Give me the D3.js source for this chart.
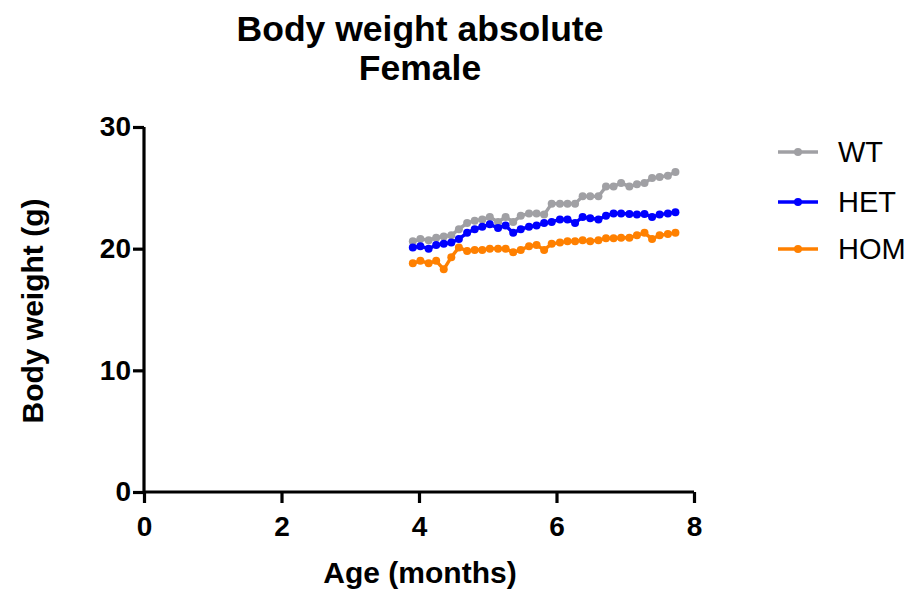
<!DOCTYPE html>
<html>
<head>
<meta charset="utf-8">
<script src="https://cdn.jsdelivr.net/npm/d3@7"></script>
<style>
  body { margin: 0; background: #fff; }
  text { font-family: "Liberation Sans", Arial, sans-serif; }
</style>
</head>
<body>
<div id="chart"></div>
<script>
// ages in months
const ages = [3.91, 4.02, 4.14, 4.25, 4.36, 4.47, 4.58, 4.70, 4.81, 4.92, 5.03, 5.15, 5.26, 5.37, 5.48, 5.60, 5.71, 5.82,
    5.93, 6.05, 6.16, 6.27, 6.38, 6.49, 6.61, 6.72, 6.83, 6.94, 7.06, 7.17, 7.28, 7.39, 7.50, 7.62, 7.73];

const wt = [20.6, 20.8, 20.7, 20.9, 21.0, 21.1, 21.6, 22.1, 22.3, 22.4, 22.6, 22.2, 22.6, 22.2, 22.7, 22.9, 22.9, 22.8,
    23.7, 23.7, 23.7, 23.7, 24.3, 24.3, 24.3, 25.1, 25.1, 25.4, 25.1, 25.3, 25.4, 25.8, 25.9, 26.0, 26.3];
const het = [20.1, 20.2, 20.0, 20.3, 20.4, 20.5, 20.8, 21.3, 21.6, 21.8, 22.0, 21.7, 21.9, 21.3, 21.6, 21.8, 21.9, 22.1,
    22.2, 22.4, 22.4, 22.1, 22.6, 22.5, 22.4, 22.7, 22.9, 22.9, 22.85, 22.8, 22.85, 22.6, 22.8, 22.9, 23.0];
const hom = [18.8, 19.0, 18.8, 19.0, 18.3, 19.3, 20.1, 19.8, 19.9, 19.9, 20.0, 20.0, 20.0, 19.7, 19.9, 20.2, 20.3, 19.9,
    20.4, 20.5, 20.6, 20.6, 20.7, 20.6, 20.7, 20.85, 20.85, 20.9, 20.9, 21.1, 21.3, 20.8, 21.1, 21.2, 21.3];

const groups = ['WT', 'HET', 'HOM'];
const colors = ['#a0a0a4', '#0000ff', '#ff8000'];
const xTicks = [0, 2, 4, 6, 8];
const yTicks = [0, 10, 20, 30];

const width = 907, height = 590;
const svg = d3.select('#chart').append('svg')
    .attr('width', width)
    .attr('height', height);

const x = d3.scaleLinear().domain([0, 8]).range([144, 694]);
const y = d3.scaleLinear().domain([0, 30]).range([492, 127]);

// title
svg.append('text').attr('x', 420).attr('y', 41).attr('text-anchor', 'middle')
    .attr('font-size', 35.5).attr('font-weight', 'bold').text('Body weight absolute');
svg.append('text').attr('x', 420).attr('y', 80).attr('text-anchor', 'middle')
    .attr('font-size', 35.5).attr('font-weight', 'bold').text('Female');

// axes
const xAxis = svg.append('g').attr('transform', `translate(0,${y(0)})`)
    .call(d3.axisBottom(x).tickValues(xTicks).tickSize(11).tickPadding(13).tickFormat(d3.format('d')));
const yAxis = svg.append('g').attr('transform', `translate(${x(0)},0)`)
    .call(d3.axisLeft(y).tickValues(yTicks).tickSize(11).tickPadding(2).tickFormat(d3.format('d')));

[xAxis, yAxis].forEach(a => {
    a.select('.domain').attr('stroke', '#000').attr('stroke-width', 3.2)
        .attr('d', a === xAxis ? `M${x(0)},0H${x(8)}` : `M0,${y(0)}V${y(30)}`);
    a.selectAll('.tick line').attr('stroke', '#000').attr('stroke-width', 3.2);
    a.selectAll('.tick text').attr('fill', '#000').attr('font-size', 28).attr('font-weight', 'bold')
        .attr('font-family', '"Liberation Sans", Arial, sans-serif');
});

svg.append('text').attr('x', 420).attr('y', 583).attr('text-anchor', 'middle')
    .attr('font-size', 30).attr('font-weight', 'bold').text('Age (months)');
svg.append('text').attr('transform', 'translate(43,311) rotate(-90)').attr('text-anchor', 'middle')
    .attr('font-size', 30).attr('font-weight', 'bold').text('Body weight (g)');

// series
const seriesData = [wt, het, hom];
const line = d3.line().x(d => x(d[0])).y(d => y(d[1]));

seriesData.forEach((vals, k) => {
    const pts = ages.map((a, i) => [a, vals[i]]);
    const g = svg.append('g');
    g.append('path').datum(pts).attr('d', line)
        .attr('fill', 'none').attr('stroke', colors[k]).attr('stroke-width', 3.4);
    g.selectAll('circle').data(pts).enter().append('circle')
        .attr('cx', d => x(d[0])).attr('cy', d => y(d[1])).attr('r', 4)
        .attr('fill', colors[k]);
});

// legend
const legendY = [152, 202, 249];
groups.forEach((name, k) => {
    const lg = svg.append('g').attr('transform', `translate(778,${legendY[k]})`);
    lg.append('line').attr('x1', 0).attr('x2', 40).attr('y1', 0).attr('y2', 0)
        .attr('stroke', colors[k]).attr('stroke-width', 3.4);
    lg.append('circle').attr('cx', 20).attr('cy', 0).attr('r', 4).attr('fill', colors[k]);
    lg.append('text').attr('x', 60).attr('y', 10).attr('font-size', 29).text(name);
});
</script>
</body>
</html>
